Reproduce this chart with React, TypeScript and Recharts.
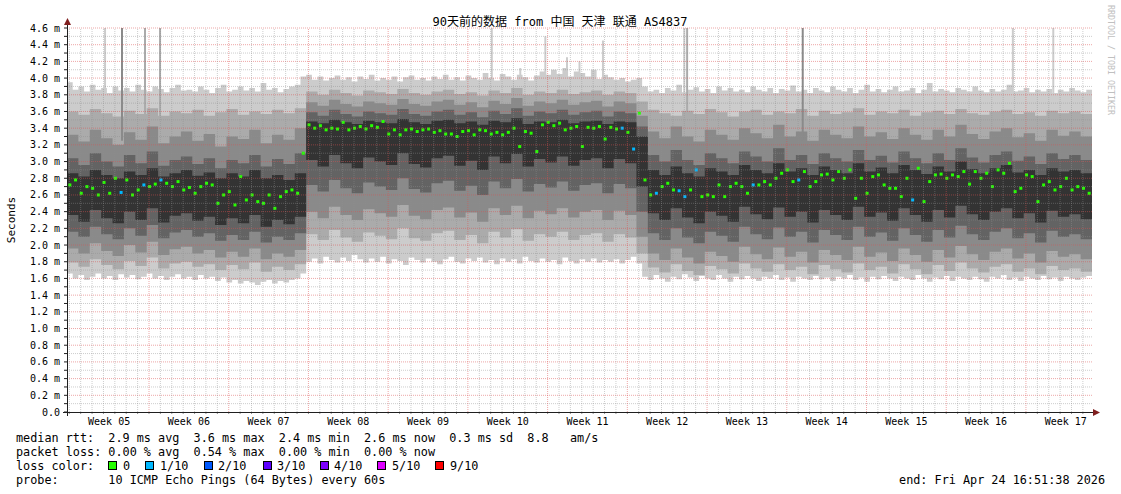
import { ComposedChart, Area, Scatter, ErrorBar, XAxis, YAxis, ReferenceLine } from 'recharts'

const MONO = "'DejaVu Sans Mono', 'Noto Sans CJK SC', monospace"

// smokeping shades, outermost ping pair first (10 pings -> 5 bands)
const SMOKE = ['#cccccc', '#ababab', '#8a8a8a', '#636363', '#333333']
const GRID = '#8f8f8f'
const MGRID = '#de5050'
const AXIS = '#1f1f1f'
const ARROW = '#801f1f'

const lossLabels = ['0', '1/10', '2/10', '3/10', '4/10', '5/10', '9/10']
const lossColors = ['#26ff00', '#00b8ff', '#0059ff', '#5e00ff', '#7e00ff', '#dd00ff', '#ff0000']
const lossBoxX = [108, 145, 204, 263, 320, 377, 435]
const lossTextX = [123, 160, 218, 277, 334, 392, 450]

const weekLabels = ['Week 05', 'Week 06', 'Week 07', 'Week 08', 'Week 09', 'Week 10', 'Week 11',
  'Week 12', 'Week 13', 'Week 14', 'Week 15', 'Week 16', 'Week 17']
// days since start of graph
const weekMid = [3.7, 10.7, 17.7, 24.7, 31.7, 38.7, 45.7, 52.7, 59.7, 66.7, 73.7, 80.7, 87.7]
const yTicks = [0, 0.1, 0.2, 0.3, 0.4, 0.5, 0.6, 0.7, 0.8, 0.9, 1.0, 1.1, 1.2, 1.3, 1.4, 1.5,
  1.6, 1.7, 1.8, 1.9, 2.0, 2.1, 2.2, 2.3, 2.4, 2.5, 2.6, 2.7, 2.8, 2.9, 3.0, 3.1, 3.2, 3.3,
  3.4, 3.5, 3.6, 3.7, 3.8, 3.9, 4.0, 4.1, 4.2, 4.3, 4.4, 4.5, 4.6]

// half-day buckets (180), ms
const median = [
  2.72, 2.78, 2.62, 2.70, 2.68, 2.60, 2.75, 2.62, 2.80, 2.63,
  2.78, 2.60, 2.66, 2.72, 2.70, 2.73, 2.78, 2.74, 2.70, 2.76,
  2.66, 2.69, 2.62, 2.70, 2.74, 2.72, 2.50, 2.60, 2.64, 2.48,
  2.82, 2.54, 2.60, 2.52, 2.50, 2.60, 2.44, 2.58, 2.64, 2.66,
  2.62, 3.10, 3.44, 3.40, 3.43, 3.38, 3.40, 3.39, 3.47, 3.38,
  3.40, 3.42, 3.39, 3.43, 3.41, 3.48, 3.33, 3.38, 3.32, 3.38,
  3.39, 3.36, 3.38, 3.39, 3.35, 3.37, 3.33, 3.33, 3.30, 3.36,
  3.37, 3.32, 3.38, 3.37, 3.33, 3.35, 3.32, 3.35, 3.40, 3.18,
  3.36, 3.34, 3.12, 3.44, 3.47, 3.43, 3.46, 3.38, 3.40, 3.42,
  3.18, 3.41, 3.40, 3.42, 3.27, 3.41, 3.39, 3.40, 3.35, 3.15,
  3.58, 2.78, 2.60, 2.62, 2.70, 2.74, 2.66, 2.65, 2.58, 2.66,
  2.90, 2.58, 2.60, 2.58, 2.72, 2.58, 2.70, 2.74, 2.70, 2.62,
  2.72, 2.72, 2.76, 2.72, 2.80, 2.86, 2.90, 2.76, 2.78, 2.88,
  2.70, 2.76, 2.84, 2.85, 2.78, 2.88, 2.80, 2.90, 2.56, 2.80,
  2.62, 2.82, 2.84, 2.72, 2.68, 2.68, 2.58, 2.80, 2.54, 2.92,
  2.52, 2.76, 2.84, 2.85, 2.80, 2.84, 2.82, 2.88, 2.73, 2.88,
  2.80, 2.86, 2.70, 2.90, 2.86, 2.98, 2.64, 2.68, 2.84, 2.82,
  2.52, 2.72, 2.76, 2.66, 2.70, 2.80, 2.66, 2.70, 2.68, 2.62,
]
// buckets where 1 of 10 pings was lost
const lossOneTenth = [9, 13, 16, 97, 99, 103, 107, 108, 110, 120, 128, 148]

const pingMax = [
  3.95, 3.86, 3.90, 3.84, 3.92, 3.86, 3.88, 3.82, 3.90, 3.85,
  3.88, 3.84, 3.92, 3.86, 3.84, 3.90, 3.87, 3.83, 3.88, 3.92,
  3.85, 3.86, 3.84, 3.90, 3.86, 3.82, 3.88, 3.92, 3.84, 3.86,
  3.90, 3.85, 3.88, 3.84, 3.94, 3.86, 3.88, 3.83, 3.87, 3.90,
  3.92, 4.02, 4.04, 3.98, 4.02, 3.97, 4.00, 4.03, 3.98, 4.01,
  3.96, 4.02, 3.99, 4.04, 3.97, 4.00, 3.98, 4.02, 3.96, 4.01,
  4.03, 3.98, 4.00, 3.97, 4.02, 3.99, 4.04, 3.98, 4.01, 3.97,
  4.03, 4.00, 3.98, 4.06, 4.00, 3.97, 4.05, 4.02, 3.98, 4.04,
  4.01, 3.97, 4.03, 4.08, 4.04, 4.10, 4.05, 4.12, 4.02, 4.08,
  4.06, 4.02, 4.10, 3.99, 4.04, 4.01, 3.98, 4.00, 3.96, 3.98,
  4.00, 3.90, 3.84, 3.86, 3.82, 3.88, 3.85, 3.92, 3.83, 3.86,
  3.89, 3.84, 3.87, 3.82, 3.90, 3.85, 3.88, 3.84, 3.86, 3.83,
  3.90, 3.86, 3.84, 3.88, 3.82, 3.87, 3.85, 3.91, 3.84, 3.86,
  3.82, 3.88, 3.85, 3.83, 3.90, 3.86, 3.84, 3.88, 3.82, 3.86,
  3.92, 3.84, 3.87, 3.83, 3.86, 3.90, 3.84, 3.85, 3.88, 3.82,
  3.86, 3.94, 3.84, 3.87, 3.85, 3.83, 3.88, 3.86, 3.84, 3.90,
  3.85, 3.83, 3.87, 3.84, 3.86, 3.92, 3.84, 3.85, 3.88, 3.83,
  3.86, 3.84, 3.87, 3.82, 3.86, 3.84, 3.88, 3.85, 3.83, 3.86,
]
const pingMin = [
  1.66, 1.60, 1.64, 1.58, 1.62, 1.66, 1.60, 1.63, 1.58, 1.65,
  1.61, 1.64, 1.59, 1.62, 1.66, 1.60, 1.63, 1.58, 1.62, 1.65,
  1.60, 1.62, 1.58, 1.64, 1.60, 1.62, 1.57, 1.61, 1.55, 1.58,
  1.54, 1.57, 1.55, 1.52, 1.56, 1.58, 1.54, 1.57, 1.55, 1.58,
  1.60, 1.66, 1.80, 1.84, 1.78, 1.86, 1.82, 1.79, 1.85, 1.81,
  1.88, 1.83, 1.79, 1.84, 1.80, 1.86, 1.78, 1.83, 1.81, 1.76,
  1.85, 1.82, 1.79, 1.84, 1.80, 1.77, 1.83, 1.86, 1.80, 1.78,
  1.84, 1.81, 1.85, 1.79, 1.82, 1.77, 1.84, 1.80, 1.83, 1.78,
  1.86, 1.81, 1.79, 1.84, 1.80, 1.82, 1.77, 1.85, 1.81, 1.78,
  1.83, 1.80, 1.84, 1.79, 1.82, 1.80, 1.83, 1.78, 1.82, 1.86,
  1.78, 1.62, 1.58, 1.64, 1.60, 1.56, 1.62, 1.59, 1.65, 1.61,
  1.57, 1.63, 1.60, 1.58, 1.64, 1.60, 1.56, 1.62, 1.59, 1.63,
  1.60, 1.57, 1.62, 1.60, 1.64, 1.58, 1.61, 1.56, 1.62, 1.60,
  1.58, 1.63, 1.59, 1.61, 1.57, 1.62, 1.60, 1.64, 1.58, 1.61,
  1.56, 1.62, 1.59, 1.63, 1.60, 1.57, 1.62, 1.60, 1.58, 1.64,
  1.60, 1.56, 1.61, 1.59, 1.63, 1.57, 1.62, 1.60, 1.58, 1.62,
  1.59, 1.56, 1.62, 1.60, 1.64, 1.58, 1.61, 1.57, 1.62, 1.60,
  1.58, 1.63, 1.59, 1.61, 1.57, 1.62, 1.60, 1.58, 1.61, 1.63,
]

// daily buckets (90): sorted pings 2..9 (p1..p8)
const p8 = [
  3.60, 3.56, 3.63, 3.58, 3.54, 3.61, 3.57, 3.64, 3.55, 3.60, 3.58, 3.62, 3.55, 3.59, 3.63, 3.56, 3.60, 3.57, 3.62, 3.58, 3.64,
  3.84, 3.80, 3.86, 3.82, 3.79, 3.85, 3.83, 3.81, 3.87, 3.82, 3.80, 3.84, 3.86, 3.81, 3.83, 3.79, 3.85, 3.82, 3.88, 3.80, 3.84, 3.82, 3.86, 3.81, 3.83, 3.85, 3.80, 3.84, 3.82,
  3.72,
  3.62, 3.58, 3.55, 3.61, 3.57, 3.63, 3.59, 3.54, 3.60, 3.62, 3.56, 3.60, 3.58, 3.63, 3.55, 3.61, 3.57, 3.59, 3.64, 3.56, 3.60, 3.58, 3.62, 3.55, 3.59, 3.61, 3.57, 3.63, 3.58, 3.56, 3.60, 3.62, 3.57, 3.59, 3.55, 3.61, 3.58, 3.60, 3.57,
]
const p7 = [
  3.32, 3.24, 3.38, 3.28, 3.20, 3.35, 3.26, 3.42, 3.22, 3.30, 3.36, 3.25, 3.33, 3.18, 3.30, 3.27, 3.38, 3.22, 3.32, 3.26, 3.40,
  3.71, 3.67, 3.74, 3.69, 3.66, 3.72, 3.70, 3.68, 3.75, 3.69, 3.67, 3.72, 3.74, 3.68, 3.71, 3.65, 3.73, 3.69, 3.76, 3.67, 3.72, 3.70, 3.74, 3.68, 3.71, 3.73, 3.66, 3.72, 3.70,
  3.55,
  3.36, 3.28, 3.42, 3.30, 3.24, 3.38, 3.32, 3.26, 3.40, 3.34, 3.28, 3.44, 3.30, 3.36, 3.25, 3.38, 3.32, 3.28, 3.42, 3.30, 3.35, 3.27, 3.40, 3.32, 3.26, 3.38, 3.30, 3.44, 3.33, 3.27, 3.36, 3.40, 3.29, 3.34, 3.25, 3.38, 3.31, 3.36, 3.30,
]
const p6 = [
  3.04, 2.96, 3.10, 3.00, 2.94, 3.08, 2.98, 3.12, 2.95, 3.02, 3.06, 2.97, 3.04, 2.92, 3.02, 2.98, 3.08, 2.94, 3.03, 2.97, 3.10,
  3.59, 3.55, 3.62, 3.57, 3.54, 3.60, 3.58, 3.56, 3.63, 3.57, 3.55, 3.60, 3.62, 3.56, 3.59, 3.53, 3.61, 3.57, 3.64, 3.55, 3.60, 3.58, 3.62, 3.56, 3.59, 3.61, 3.54, 3.60, 3.58,
  3.42,
  3.08, 3.00, 3.14, 3.02, 2.96, 3.10, 3.04, 2.98, 3.12, 3.06, 3.00, 3.16, 3.02, 3.08, 2.97, 3.10, 3.04, 3.00, 3.14, 3.02, 3.07, 2.99, 3.12, 3.04, 2.98, 3.10, 3.02, 3.16, 3.05, 2.99, 3.08, 3.12, 3.01, 3.06, 2.97, 3.10, 3.03, 3.08, 3.02,
]
const p5 = [
  2.86, 2.82, 2.90, 2.84, 2.80, 2.88, 2.84, 2.92, 2.82, 2.86, 2.90, 2.83, 2.87, 2.80, 2.86, 2.82, 2.90, 2.80, 2.84, 2.78, 2.86,
  3.48, 3.46, 3.50, 3.47, 3.45, 3.49, 3.47, 3.46, 3.51, 3.47, 3.45, 3.49, 3.50, 3.46, 3.48, 3.44, 3.49, 3.47, 3.52, 3.45, 3.48, 3.47, 3.50, 3.46, 3.48, 3.49, 3.45, 3.48, 3.47,
  3.30,
  2.90, 2.84, 2.94, 2.86, 2.82, 2.92, 2.88, 2.84, 2.96, 2.90, 2.86, 2.98, 2.88, 2.92, 2.84, 2.94, 2.90, 2.86, 2.98, 2.88, 2.93, 2.86, 2.96, 2.90, 2.85, 2.94, 2.88, 3.00, 2.91, 2.86, 2.92, 2.96, 2.87, 2.90, 2.84, 2.92, 2.88, 2.90, 2.86,
]
const p4 = [
  2.36, 2.28, 2.42, 2.32, 2.26, 2.40, 2.30, 2.44, 2.27, 2.35, 2.38, 2.29, 2.34, 2.24, 2.32, 2.26, 2.36, 2.22, 2.30, 2.25, 2.34,
  3.02, 2.94, 3.08, 2.98, 2.92, 3.05, 3.00, 2.96, 3.10, 2.97, 2.93, 3.04, 3.07, 2.95, 3.01, 2.90, 3.06, 2.98, 3.09, 2.94, 3.03, 2.99, 3.06, 2.95, 3.02, 3.04, 2.92, 3.03, 2.98,
  2.70,
  2.38, 2.30, 2.44, 2.33, 2.26, 2.40, 2.35, 2.28, 2.46, 2.37, 2.31, 2.45, 2.34, 2.40, 2.27, 2.42, 2.36, 2.30, 2.46, 2.34, 2.39, 2.29, 2.44, 2.36, 2.28, 2.42, 2.33, 2.47, 2.37, 2.30, 2.40, 2.44, 2.32, 2.38, 2.27, 2.41, 2.34, 2.37, 2.31,
]
const p3 = [
  2.16, 2.10, 2.22, 2.13, 2.07, 2.20, 2.11, 2.24, 2.08, 2.15, 2.18, 2.10, 2.14, 2.05, 2.12, 2.06, 2.16, 2.03, 2.10, 2.06, 2.14,
  2.72, 2.64, 2.78, 2.68, 2.62, 2.75, 2.70, 2.66, 2.80, 2.67, 2.63, 2.74, 2.77, 2.65, 2.71, 2.60, 2.76, 2.68, 2.79, 2.64, 2.73, 2.69, 2.76, 2.65, 2.72, 2.74, 2.62, 2.73, 2.68,
  2.40,
  2.14, 2.06, 2.20, 2.09, 2.02, 2.16, 2.11, 2.04, 2.22, 2.13, 2.07, 2.21, 2.10, 2.16, 2.03, 2.18, 2.12, 2.06, 2.22, 2.10, 2.15, 2.05, 2.20, 2.12, 2.04, 2.18, 2.09, 2.23, 2.13, 2.06, 2.16, 2.20, 2.08, 2.14, 2.03, 2.17, 2.10, 2.13, 2.07,
]
const p2 = [
  1.96, 1.90, 2.02, 1.93, 1.87, 2.00, 1.91, 2.04, 1.88, 1.95, 1.98, 1.90, 1.94, 1.85, 1.92, 1.86, 1.96, 1.83, 1.90, 1.86, 1.94,
  2.40, 2.32, 2.46, 2.36, 2.30, 2.43, 2.38, 2.34, 2.48, 2.35, 2.31, 2.42, 2.45, 2.33, 2.39, 2.28, 2.44, 2.36, 2.47, 2.32, 2.41, 2.37, 2.44, 2.33, 2.40, 2.42, 2.30, 2.41, 2.36,
  2.10,
  1.90, 1.82, 1.96, 1.85, 1.78, 1.92, 1.87, 1.80, 1.98, 1.89, 1.83, 1.97, 1.86, 1.92, 1.79, 1.94, 1.88, 1.82, 1.98, 1.86, 1.91, 1.81, 1.96, 1.88, 1.80, 1.94, 1.85, 1.99, 1.89, 1.82, 1.92, 1.96, 1.84, 1.90, 1.79, 1.93, 1.86, 1.89, 1.83,
]
const p1 = [
  1.79, 1.74, 1.83, 1.76, 1.71, 1.81, 1.75, 1.85, 1.72, 1.78, 1.80, 1.74, 1.77, 1.70, 1.76, 1.71, 1.79, 1.68, 1.74, 1.70, 1.77,
  2.13, 2.06, 2.18, 2.09, 2.04, 2.15, 2.11, 2.07, 2.20, 2.08, 2.05, 2.14, 2.17, 2.06, 2.12, 2.02, 2.16, 2.09, 2.19, 2.05, 2.13, 2.10, 2.16, 2.06, 2.12, 2.14, 2.04, 2.13, 2.09,
  1.90,
  1.73, 1.67, 1.77, 1.69, 1.64, 1.75, 1.71, 1.66, 1.78, 1.72, 1.68, 1.77, 1.70, 1.74, 1.65, 1.76, 1.71, 1.67, 1.78, 1.70, 1.74, 1.66, 1.77, 1.71, 1.65, 1.76, 1.69, 1.79, 1.72, 1.67, 1.74, 1.77, 1.68, 1.72, 1.65, 1.75, 1.70, 1.72, 1.68,
]

// single-step outliers reaching far above the smoke
const spikeDay = [3.34, 4.83, 6.85, 8.17, 37.3, 39.8, 42.0, 43.9, 45.0, 47.06, 54.2, 54.45, 64.6, 83.05, 86.6]
const spikeBase = [3.85, 3.25, 3.5, 3.5, 3.9, 3.9, 3.9, 3.9, 3.9, 3.9, 3.8, 3.5, 3.25, 3.8, 3.8]
const spikeTop = [4.6, 4.6, 4.6, 4.6, 4.6, 4.12, 4.5, 4.25, 4.2, 4.45, 4.6, 4.6, 4.6, 4.6, 4.6]
const spikeShade = [0, 2, 1, 1, 0, 0, 0, 0, 0, 0, 0, 1, 2, 0, 0]

function bandRows(lo: number[], hi: number[], step: number) {
  const rows = lo.map((v, i) => ({ x: i * step, band: [v, hi[i]] }))
  // close the last step at the right edge
  rows.push({ x: lo.length * step, band: [lo[lo.length - 1], hi[hi.length - 1]] })
  return rows
}

const bands = [
  bandRows(pingMin, pingMax, 0.5),
  bandRows(p1, p8, 1),
  bandRows(p2, p7, 1),
  bandRows(p3, p6, 1),
  bandRows(p4, p5, 1),
]

const medianRows = median.map((v, i) => ({ x: i * 0.5 + 0.25, y: v, loss: lossOneTenth.includes(i) ? 1 : 0 }))

const spikeRows = [0, 1, 2].map((shade) =>
  spikeDay
    .map((d, i) => ({ x: d, y: spikeBase[i], err: [0, spikeTop[i] - spikeBase[i]], shade: spikeShade[i] }))
    .filter((r) => r.shade === shade),
)

const hLines = yTicks.filter((v) => v > 0)
const dayLines = Array.from({ length: 90 }, (_, k) => 0.2 + k)
const weekLines = dayLines.filter((_, k) => k > 0 && k % 7 === 0)

const W = 1121
const H = 494
const MARGIN = { top: 28, right: 29, bottom: 0, left: 0 }

function medianDot(color: string) {
  return (props: any) => <rect x={props.cx - 1.5} y={props.cy - 1.5} width={3} height={3} fill={color} />
}

const noShape = () => <g />

function YTick({ x, y, payload }: any) {
  const v = payload.value as number
  if (Math.round(v * 10) % 2 !== 0) return <g />
  return (
    <text x={x} y={y} dy={3.5} textAnchor="end" fontSize={10} fontFamily={MONO} fill="#000">
      {v === 0 ? '0.0' : `${v.toFixed(1)} m`}
    </text>
  )
}

function WeekTick({ x, y, payload }: any) {
  const i = weekMid.indexOf(payload.value)
  return (
    <text x={x} y={y} textAnchor="middle" fontSize={10} fontFamily={MONO} fill="#000">
      {weekLabels[i]}
    </text>
  )
}

const pre = { whiteSpace: 'pre' as const }

export default function App() {
  return (
    <div style={{ position: 'absolute', left: 0, top: 0, width: W, height: H, background: '#fff' }}>
      <ComposedChart width={W} height={H} margin={MARGIN}>
        <XAxis
          type="number"
          dataKey="x"
          domain={[0, 90]}
          allowDataOverflow
          ticks={weekMid}
          interval={0}
          height={82}
          axisLine={false}
          tickLine={false}
          tickSize={0}
          tickMargin={13}
          tick={WeekTick}
        />
        <YAxis
          type="number"
          dataKey="y"
          domain={[0, 4.6]}
          allowDataOverflow
          ticks={yTicks}
          interval={0}
          width={67}
          axisLine={false}
          tickLine={{ stroke: AXIS }}
          tickSize={3}
          tickMargin={4}
          tick={YTick}
        />
        {bands.map((rows, k) => (
          <Area
            key={`band${k}`}
            data={rows}
            dataKey="band"
            type="stepAfter"
            stroke="none"
            fill={SMOKE[k]}
            fillOpacity={1}
            dot={false}
            activeDot={false}
            isAnimationActive={false}
          />
        ))}
        {spikeRows.map((rows, k) => (
          <Scatter key={`spike${k}`} data={rows} dataKey="y" shape={noShape} isAnimationActive={false}>
            <ErrorBar dataKey="err" direction="y" width={0} stroke={SMOKE[k]} strokeWidth={2} isAnimationActive={false} />
          </Scatter>
        ))}
        <Scatter
          data={medianRows.filter((r) => r.loss === 0)}
          dataKey="y"
          shape={medianDot(lossColors[0])}
          isAnimationActive={false}
        />
        <Scatter
          data={medianRows.filter((r) => r.loss === 1)}
          dataKey="y"
          shape={medianDot(lossColors[1])}
          isAnimationActive={false}
        />
      </ComposedChart>

      {/* rrdtool draws its grid over the graph, so it sits in a second, transparent chart */}
      <div style={{ position: 'absolute', left: 0, top: 0, pointerEvents: 'none' }}>
        <ComposedChart width={W} height={H} margin={MARGIN} data={medianRows}>
          <XAxis
            type="number"
            dataKey="x"
            domain={[0, 90]}
            allowDataOverflow
            height={82}
            ticks={dayLines}
            interval={0}
            tick={noShape}
            axisLine={false}
            tickLine={{ stroke: GRID }}
            tickSize={2}
          />
          <XAxis
            xAxisId="weeks"
            type="number"
            dataKey="x"
            domain={[0, 90]}
            allowDataOverflow
            height={0}
            ticks={weekLines}
            interval={0}
            tick={noShape}
            axisLine={false}
            tickLine={{ stroke: MGRID }}
            tickSize={3}
          />
          <YAxis type="number" dataKey="y" domain={[0, 4.6]} allowDataOverflow width={67} tick={false} axisLine={false} tickLine={false} />
          {hLines.map((v) => {
            const major = Math.round(v * 10) % 2 === 0
            return (
              <ReferenceLine
                key={`h${v}`}
                y={v}
                stroke={major ? MGRID : GRID}
                strokeOpacity={major ? 0.5 : 0.45}
                strokeDasharray="1 1"
              />
            )
          })}
          {dayLines.map((d, k) => {
            const major = k > 0 && k % 7 === 0
            return (
              <ReferenceLine
                key={`v${k}`}
                x={d}
                stroke={major ? MGRID : GRID}
                strokeOpacity={major ? 0.5 : 0.45}
                strokeDasharray="1 1"
              />
            )
          })}
        </ComposedChart>
      </div>

      <svg
        width={W}
        height={H}
        style={{ position: 'absolute', left: 0, top: 0, pointerEvents: 'none' }}
        fontFamily={MONO}
      >
        <line x1={67.5} y1={22} x2={67.5} y2={416} stroke={AXIS} />
        <polygon points="64,25 71,25 67.5,18" fill={ARROW} />
        <line x1={63} y1={412.5} x2={1094} y2={412.5} stroke={AXIS} />
        <polygon points="1093,409 1093,416 1100,412.5" fill={ARROW} />

        <text x={560} y={26} textAnchor="middle" fontSize={12} fill="#000">
          90天前的数据 from 中国 天津 联通 AS4837
        </text>
        <text transform="translate(15,220) rotate(-90)" textAnchor="middle" fontSize={11} fill="#000">
          Seconds
        </text>
        <text transform="translate(1108,5) rotate(90)" fontSize={8.3} fill="#c0c0c0">
          RRDTOOL / TOBI OETIKER
        </text>

        <g fontSize={11.8} fill="#000">
          <text x={16} y={442} xmlSpace="preserve" style={pre}>
            {'median rtt:  2.9 ms avg  3.6 ms max  2.4 ms min  2.6 ms now  0.3 ms sd  8.8   am/s'}
          </text>
          <text x={16} y={456} xmlSpace="preserve" style={pre}>
            {'packet loss: 0.00 % avg  0.54 % max  0.00 % min  0.00 % now'}
          </text>
          <text x={16} y={470}>loss color:</text>
          {lossLabels.map((l, i) => (
            <g key={l}>
              <rect x={lossBoxX[i] + 0.5} y={461.5} width={8} height={8} fill={lossColors[i]} stroke="#000" />
              <text x={lossTextX[i]} y={470}>{l}</text>
            </g>
          ))}
          <text x={16} y={484} xmlSpace="preserve" style={pre}>
            {'probe:       10 ICMP Echo Pings (64 Bytes) every 60s'}
          </text>
          <text x={1105} y={484} textAnchor="end">end: Fri Apr 24 16:51:38 2026</text>
        </g>
      </svg>
    </div>
  )
}
